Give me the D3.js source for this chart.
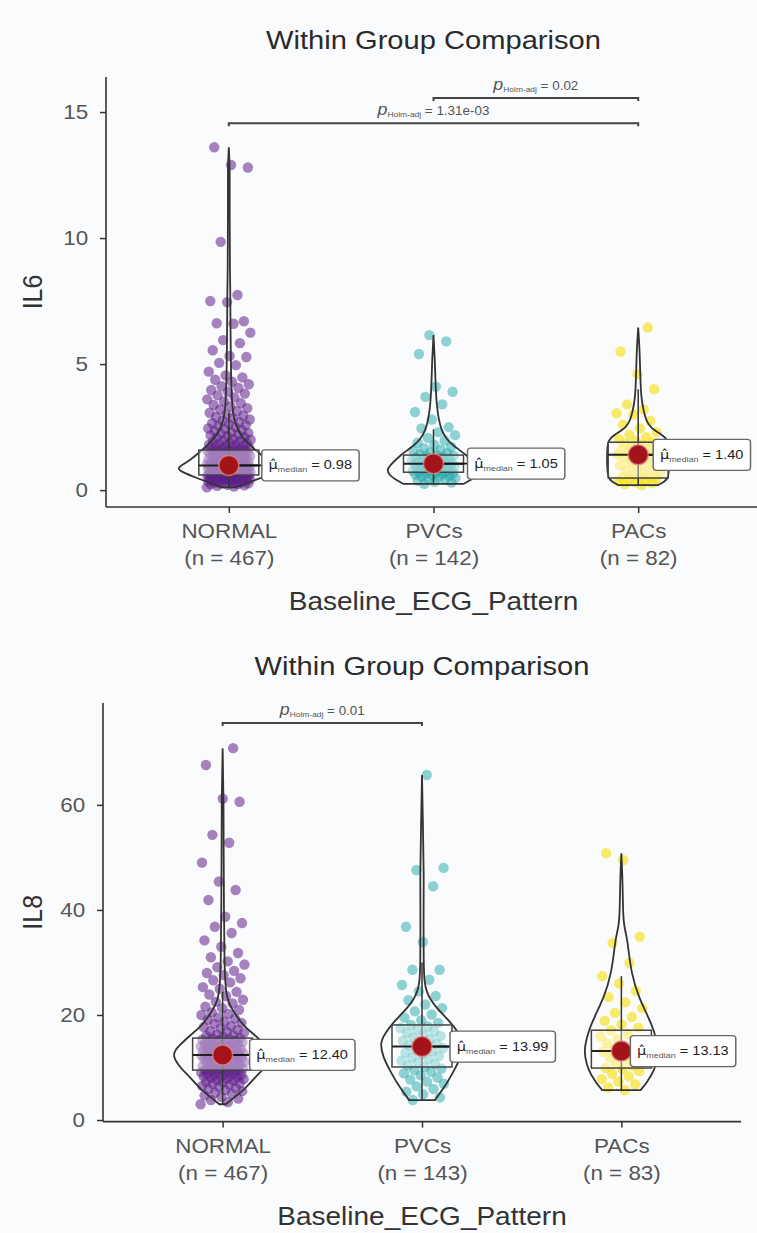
<!DOCTYPE html>
<html lang="en">
<head>
<meta charset="UTF-8" />
<title>Within Group Comparison</title>
<style>
  body { margin: 0; background: #fafbfc; }
  svg { display: block; font-family: "Liberation Sans", Arial, sans-serif; }
</style>
</head>
<body>
<script src="https://cdn.jsdelivr.net/npm/d3@7"></script>
<div id="app"></div>
<script>
// ---- data ----
const groups = ["NORMAL", "PVCs", "PACs"];
const il6Counts = [467, 142, 82];
const il8Counts = [467, 143, 83];
const il6Medians = [0.98, 1.05, 1.40];
const il8Medians = [12.40, 13.99, 13.13];
// q1, q3, lower whisker, upper whisker
const il6Boxes = [[0.60, 1.59, 0.11, 3.07], [0.71, 1.39, 0.25, 2.41], [0.48, 1.90, 0.20, 4.00]];
const il8Boxes = [[9.5, 15.6, 3.0, 24.4], [10.1, 18.1, 3.8, 30.0], [9.9, 17.1, 5.7, 27.4]];
// violin outlines: [value, relative density]
const il6Violins = [
  [[0.11,0.12],[0.2,0.25],[0.3,0.38],[0.5,0.64],[0.7,0.88],[0.85,1.0],[1.0,0.9],[1.2,0.74],[1.5,0.56],[1.8,0.4],[2.1,0.26],[2.4,0.17],[2.8,0.1],[3.2,0.07],[4.0,0.05],[5.0,0.04],[6.0,0.035],[7.0,0.03],[7.7,0.03],[8.8,0.02],[9.9,0.02],[11.2,0.015],[12.8,0.02],[13.6,0]],
  [[0.25,0.58],[0.4,0.72],[0.6,0.85],[0.8,0.9],[1.0,0.83],[1.4,0.63],[1.7,0.42],[2.0,0.25],[2.4,0.15],[2.8,0.1],[3.4,0.06],[4.1,0.04],[5.0,0.03],[6.15,0]],
  [[0.2,0.38],[0.35,0.52],[0.5,0.58],[1.0,0.6],[1.5,0.6],[2.0,0.58],[2.2,0.45],[2.5,0.22],[2.8,0.15],[3.1,0.11],[3.6,0.06],[4.5,0.04],[5.5,0.03],[6.45,0]]
];
const il8Violins = [
  [[3.0,0.06],[4.5,0.25],[6,0.44],[8.2,0.63],[10,0.82],[12.4,0.98],[14,0.86],[16.5,0.58],[18,0.4],[20,0.25],[22,0.13],[23.5,0.08],[26,0.05],[30,0.035],[40,0.025],[50,0.02],[60,0.02],[70.8,0]],
  [[3.8,0.25],[4.4,0.29],[6.5,0.45],[9.5,0.62],[12,0.75],[14.7,0.81],[16.5,0.71],[18.5,0.56],[20,0.41],[21.5,0.27],[23,0.16],[24.2,0.1],[26,0.045],[30,0.03],[40,0.03],[47,0.035],[55,0.02],[65.7,0]],
  [[5.7,0.37],[7,0.48],[9.5,0.64],[12,0.7],[13.9,0.71],[17,0.63],[19.6,0.52],[23.4,0.33],[28,0.19],[33,0.13],[35,0.1],[37,0.05],[40,0.03],[45,0.025],[50.8,0]]
];
// visible observations (estimated)
const il6Points = [
  [0.11,0.14,0.17,0.19,0.21,0.23,0.24,0.26,0.27,0.29,0.3,0.31,0.33,0.34,0.35,0.36,0.38,0.39,0.4,0.41,0.42,0.43,0.44,0.45,0.46,0.47,0.48,0.49,0.5,0.51,0.52,0.53,0.54,0.55,0.56,0.57,0.57,0.58,0.59,0.59,0.6,0.6,
   0.61,0.62,0.63,0.64,0.64,0.65,0.66,0.67,0.68,0.69,0.7,0.71,0.72,0.72,0.73,0.74,0.75,0.76,0.77,0.78,0.79,0.8,0.81,0.82,0.83,0.84,0.85,0.86,0.87,0.88,0.89,0.9,0.91,0.92,0.93,0.94,0.95,0.96,0.96,0.97,0.97,0.98,0.98,
   0.99,1.0,1.01,1.02,1.04,1.05,1.06,1.08,1.09,1.1,1.12,1.13,1.14,1.16,1.17,1.19,1.2,1.22,1.23,1.25,1.26,1.28,1.3,1.31,1.33,1.35,1.36,1.38,1.4,1.41,1.43,1.45,1.46,1.48,1.5,1.51,1.53,1.54,1.55,1.56,1.57,1.58,1.59,
   1.62,1.64,1.66,1.68,1.7,1.73,1.75,1.77,1.8,1.82,1.85,1.87,1.89,1.93,1.95,1.98,2.0,2.03,2.08,2.1,2.14,2.17,2.2,2.24,2.27,2.3,2.34,2.38,2.41,2.45,2.5,2.55,2.58,2.62,2.66,2.7,2.75,2.8,2.85,2.9,2.95,3.0,3.07,3.13,3.2,3.25,3.32,3.38,3.45,3.52,3.6,3.68,3.76,3.83,3.9,3.97,4.05,4.12,4.2,4.3,4.38,4.47,4.55,4.7,4.96,5.05,5.28,5.32,5.55,5.83,5.95,6.25,6.6,6.62,6.7,7.46,7.5,7.74,9.85,12.8,12.9,13.6],
  [0.25,0.3,0.34,0.38,0.42,0.45,0.48,0.51,0.54,0.57,0.6,0.62,0.64,0.66,0.68,0.7,0.71,0.73,0.75,0.77,0.79,0.81,0.83,0.85,0.87,0.89,0.91,0.93,0.95,0.97,0.99,1.01,1.03,1.05,1.06,1.08,1.1,1.12,1.14,1.16,1.18,1.2,1.22,1.25,1.27,1.3,1.32,1.35,1.37,1.39,1.42,1.46,1.5,1.55,1.6,1.66,1.72,1.8,1.88,1.97,2.07,2.18,2.3,2.45,2.5,2.8,3.1,3.4,3.7,3.9,4.1,5.4,5.9,6.15],
  [0.2,0.24,0.28,0.31,0.35,0.38,0.41,0.44,0.47,0.5,0.55,0.6,0.66,0.72,0.78,0.85,0.92,0.98,1.05,1.12,1.18,1.25,1.3,1.35,1.38,1.4,1.42,1.46,1.5,1.55,1.6,1.65,1.7,1.75,1.8,1.85,1.9,1.95,2.02,2.1,2.2,2.3,2.45,2.6,2.75,3.0,3.05,3.2,3.4,4.0,4.6,5.5,6.45]
];
const il8Points = [
  [3.0,3.4,3.8,4.1,4.4,4.7,5.0,5.2,5.5,5.7,5.9,6.1,6.3,6.5,6.7,6.9,7.0,7.2,7.3,7.5,7.6,7.8,7.9,8.0,8.1,8.2,8.3,8.4,8.5,8.6,8.7,8.8,8.9,9.0,9.1,9.2,9.3,9.4,9.5,9.5,
   9.6,9.7,9.8,9.9,10.0,10.1,10.2,10.3,10.4,10.5,10.6,10.7,10.8,10.9,11.0,11.1,11.2,11.3,11.4,11.5,11.6,11.7,11.8,11.85,11.9,12.0,12.05,12.1,12.2,12.25,12.3,12.35,12.4,12.4,
   12.5,12.6,12.7,12.8,12.9,13.0,13.1,13.2,13.3,13.4,13.5,13.6,13.7,13.8,13.9,14.0,14.1,14.2,14.3,14.4,14.5,14.6,14.7,14.8,14.9,15.0,15.1,15.2,15.3,15.4,15.5,15.6,
   15.8,16.0,16.1,16.3,16.6,16.8,16.9,17.2,17.5,17.7,17.9,18.3,18.5,18.7,19.1,19.3,19.5,20.0,20.2,20.5,21.0,21.3,21.6,22.2,22.5,22.9,23.6,23.9,24.4,25.0,25.3,26.2,26.6,27.0,27.6,28.0,28.4,29.1,29.6,30.2,31.0,31.8,33.0,34.2,35.6,36.8,37.5,38.7,41.9,43.8,45.4,49.0,52.8,54.3,60.6,61.2,67.6,70.8],
  [3.8,4.3,4.9,5.4,5.9,6.4,6.9,7.3,7.7,8.1,8.5,8.9,9.2,9.5,9.8,10.1,10.4,10.7,11.0,11.3,11.6,11.9,12.2,12.5,12.8,13.1,13.4,13.7,13.99,14.2,14.5,14.8,15.1,15.4,15.7,16.0,16.3,16.6,16.9,17.2,17.5,17.8,18.1,18.5,19.0,19.5,20.1,20.7,21.3,22.0,22.8,23.6,24.5,25.7,26.7,28.6,28.6,33.9,36.8,44.5,47.6,48.0,65.7],
  [5.7,6.2,6.8,7.3,7.8,8.3,8.8,9.3,9.7,9.9,10.3,10.7,11.1,11.5,11.9,12.3,12.7,13.0,13.13,13.4,13.8,14.2,14.6,15.0,15.4,15.9,16.4,17.1,17.6,18.2,18.9,19.6,20.4,21.3,22.4,23.4,24.6,26.0,27.4,29.9,33.7,34.9,49.5,50.8]
];
// pairwise tests: from, to, Holm-adjusted p
const il6Tests = [["NORMAL", "PACs", "1.31e-03"], ["PVCs", "PACs", "0.02"]];
const il8Tests = [["NORMAL", "PVCs", "0.01"]];
const il6Ticks = [0, 5, 10, 15];
const il8Ticks = [0, 20, 40, 60];

// ---- layout ----
const groupColors = ["#5e1f8a", "#1fa8a8", "#f7e11a"];
const groupAlpha = [0.55, 0.5, 0.65];
const sx = 1.12; // the source picture is stretched horizontally
const svg = d3.select("#app").append("svg").attr("width", 757).attr("height", 1233);

const panels = [
  { yTitle: "IL6", counts: il6Counts, medians: il6Medians, boxes: il6Boxes, violins: il6Violins,
    points: il6Points, tests: il6Tests, testLevels: [14.56, 15.56], ticks: il6Ticks,
    xRange: [106, 761], yDomain: [-0.67, 16.39], yRange: [507, 77], labelDx: [33, 34, 15] },
  { yTitle: "IL8", counts: il8Counts, medians: il8Medians, boxes: il8Boxes, violins: il8Violins,
    points: il8Points, tests: il8Tests, testLevels: [75.6], ticks: il8Ticks,
    xRange: [103, 741], yDomain: [-0.3, 79.4], yRange: [1121.6, 703], labelDx: [27, 28, 9] }
];

function drawPanel(p) {
  const x = d3.scalePoint().domain(groups).range(p.xRange).padding(0.6);
  const y = d3.scaleLinear().domain(p.yDomain).range(p.yRange);
  const g = svg.append("g");
  const x0 = p.xRange[0], y0 = p.yRange[0];
  const mid = (p.xRange[0] + p.xRange[1]) / 2;

  // title
  g.append("text")
    .attr("transform", `translate(${mid},${p.yRange[1] - 28}) scale(${sx},1)`)
    .attr("text-anchor", "middle").attr("font-size", 26).attr("fill", "#2a2a2a")
    .text("Within Group Comparison");

  // jittered points
  groups.forEach((grp, gi) => {
    const cx = x(grp);
    g.append("g").selectAll("circle")
      .data(p.points[gi])
      .join("circle")
      .attr("cx", (d, i) => cx + (((i * 0.618034 + gi * 0.29) % 1) - 0.5) * 44)
      .attr("cy", d => y(d))
      .attr("r", 5.2)
      .attr("fill", groupColors[gi])
      .attr("fill-opacity", groupAlpha[gi]);
  });

  // violins, boxes, medians
  groups.forEach((grp, gi) => {
    const cx = x(grp);
    const area = d3.area()
      .y(d => y(d[0]))
      .x0(d => cx - d[1] * 52)
      .x1(d => cx + d[1] * 52)
      .curve(d3.curveBasis);
    g.append("path").attr("d", area(p.violins[gi]))
      .attr("fill", "none").attr("stroke", "#333").attr("stroke-width", 1.8);

    const [q1, q3, lo, hi] = p.boxes[gi];
    g.append("line").attr("x1", cx).attr("x2", cx).attr("y1", y(lo)).attr("y2", y(hi))
      .attr("stroke", "#333").attr("stroke-width", 1.5);
    g.append("rect").attr("x", cx - 30).attr("width", 60)
      .attr("y", y(q3)).attr("height", y(q1) - y(q3))
      .attr("fill", "white").attr("fill-opacity", 0.4)
      .attr("stroke", "#444").attr("stroke-width", 1.5);
    const med = p.medians[gi];
    g.append("line").attr("x1", cx - 30).attr("x2", cx + 30).attr("y1", y(med)).attr("y2", y(med))
      .attr("stroke", "#222").attr("stroke-width", 2);

    const lx = cx + p.labelDx[gi];
    g.append("line").attr("x1", cx).attr("x2", lx).attr("y1", y(med)).attr("y2", y(med))
      .attr("stroke", "#111").attr("stroke-width", 1.8);
    g.append("circle").attr("cx", cx).attr("cy", y(med)).attr("r", 10)
      .attr("fill", "#a3141a").attr("stroke", "#e58a8a").attr("stroke-opacity", 0.7).attr("stroke-width", 1.5);

    const lab = g.append("g").attr("transform", `translate(${lx},${y(med)}) scale(${sx},1)`);
    const txt = lab.append("text").attr("x", 6).attr("y", 4).attr("fill", "#222");
    txt.append("tspan").attr("font-family", "DejaVu Sans").attr("font-size", 13).text("\u03BC\u0302");
    txt.append("tspan").attr("font-size", 8).attr("dy", 3).attr("fill", "#555").text("median");
    txt.append("tspan").attr("font-size", 13).attr("dy", -3).text(" = " + med.toFixed(2));
    const bb = txt.node().getBBox();
    lab.insert("rect", "text").attr("x", 0).attr("y", -15.5).attr("width", bb.width + 12).attr("height", 31)
      .attr("rx", 3).attr("fill", "white").attr("stroke", "#666").attr("stroke-width", 1.3);
  });

  // significance brackets
  p.tests.forEach((t, ti) => {
    const xa = x(t[0]), xb = x(t[1]), yy = y(p.testLevels[ti]);
    g.append("path").attr("d", `M${xa},${yy + 3}V${yy}H${xb}V${yy + 3}`)
      .attr("fill", "none").attr("stroke", "#444").attr("stroke-width", 2);
    const tt = g.append("text")
      .attr("transform", `translate(${(xa + xb) / 2},${yy - 8}) scale(${sx},1)`)
      .attr("text-anchor", "middle").attr("fill", "#555");
    tt.append("tspan").attr("font-style", "italic").attr("font-size", 16).text("p");
    tt.append("tspan").attr("font-size", 7.5).attr("dy", 2).text("Holm-adj");
    tt.append("tspan").attr("font-size", 12).attr("dy", -2).text(" = " + t[2]);
  });

  // y axis
  const ya = g.append("g").attr("transform", `translate(${x0},0)`)
    .call(d3.axisLeft(y).tickValues(p.ticks).tickSize(6).tickPadding(10));
  ya.select(".domain").remove();
  ya.selectAll(".tick line").attr("stroke", "#333").attr("stroke-width", 1.5);
  ya.selectAll(".tick text").attr("font-size", 20).attr("fill", "#555")
    .attr("font-family", "Liberation Sans, Arial, sans-serif")
    .attr("transform", `scale(${sx},1)`);

  // x axis
  const xa = g.append("g").attr("transform", `translate(0,${y0})`)
    .call(d3.axisBottom(x).tickSize(6).tickFormat(""));
  xa.select(".domain").remove();
  xa.selectAll(".tick line").attr("stroke", "#333").attr("stroke-width", 1.5);
  xa.selectAll(".tick").each(function (d, i) {
    const t = d3.select(this);
    t.append("text").attr("transform", `translate(0,31) scale(${sx},1)`)
      .attr("text-anchor", "middle").attr("font-size", 20).attr("fill", "#555")
      .attr("font-family", "Liberation Sans, Arial, sans-serif").text(d);
    t.append("text").attr("transform", `translate(0,58) scale(${sx},1)`)
      .attr("text-anchor", "middle").attr("font-size", 20).attr("fill", "#555")
      .attr("font-family", "Liberation Sans, Arial, sans-serif").text(`(n = ${p.counts[i]})`);
  });

  // axis lines
  g.append("line").attr("x1", x0).attr("x2", x0).attr("y1", p.yRange[1]).attr("y2", y0)
    .attr("stroke", "#333").attr("stroke-width", 1.6);
  g.append("line").attr("x1", x0).attr("x2", p.xRange[1]).attr("y1", y0).attr("y2", y0)
    .attr("stroke", "#333").attr("stroke-width", 1.6);

  // axis titles
  g.append("text").attr("transform", `translate(${mid},${y0 + 103}) scale(${sx},1)`)
    .attr("text-anchor", "middle").attr("font-size", 25).attr("fill", "#333")
    .text("Baseline_ECG_Pattern");
  g.append("text")
    .attr("transform", `translate(42,${(p.yRange[0] + p.yRange[1]) / 2}) scale(${sx},1) rotate(-90)`)
    .attr("text-anchor", "middle").attr("font-size", 25).attr("fill", "#333")
    .text(p.yTitle);
}

panels.forEach(drawPanel);
</script>
</body>
</html>
